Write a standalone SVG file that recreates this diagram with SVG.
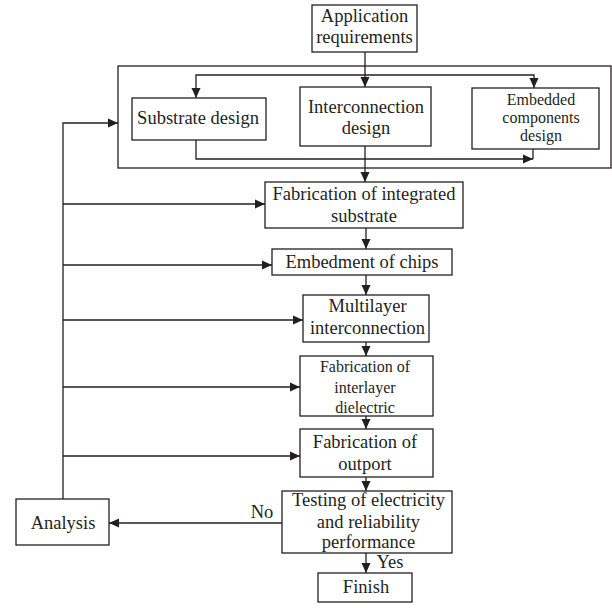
<svg xmlns="http://www.w3.org/2000/svg" width="612" height="608" viewBox="0 0 612 608">
<style>
.box{fill:none;stroke:#231f20;stroke-width:1.3}
.ln{fill:none;stroke:#231f20;stroke-width:1.3}
text{fill:#231f20;text-anchor:middle}
.t{font-size:18.5px}
.s{font-size:16px}
</style>
<defs>
<marker id="ah" markerUnits="userSpaceOnUse" markerWidth="10" markerHeight="10" viewBox="0 0 10 10" refX="10" refY="5" orient="auto">
<path d="M0,0.5 L10,5 L0,9.5 z" fill="#231f20"/>
</marker>
</defs>
<rect width="612" height="608" fill="#ffffff"/>
<g font-family="Liberation Serif, Times New Roman, serif">
<g id="container"><rect class="box" x="118" y="66" width="493" height="102"/></g>
<g id="connectors">
<path class="ln" d="M365,52 V87" marker-end="url(#ah)"/>
<path class="ln" d="M365,75 H196 V98" marker-end="url(#ah)"/>
<path class="ln" d="M365,75 H534 V88" marker-end="url(#ah)"/>
<path class="ln" d="M196,140 V159 H533" marker-end="url(#ah)"/>
<path class="ln" d="M533,149 V159"/>
<path class="ln" d="M365,146 V182" marker-end="url(#ah)"/>
<path class="ln" d="M366,228 V249" marker-end="url(#ah)"/>
<path class="ln" d="M366,275 V295" marker-end="url(#ah)"/>
<path class="ln" d="M366,342 V356" marker-end="url(#ah)"/>
<path class="ln" d="M366,416 V429" marker-end="url(#ah)"/>
<path class="ln" d="M366,477 V491" marker-end="url(#ah)"/>
<path class="ln" d="M366,553 V573" marker-end="url(#ah)"/>
<path class="ln" d="M282,523 H109" marker-end="url(#ah)"/>
<path class="ln" d="M63,499 V123 H118" marker-end="url(#ah)"/>
<path class="ln" d="M63,204 H265" marker-end="url(#ah)"/>
<path class="ln" d="M63,265 H272" marker-end="url(#ah)"/>
<path class="ln" d="M63,320 H303" marker-end="url(#ah)"/>
<path class="ln" d="M63,387 H300" marker-end="url(#ah)"/>
<path class="ln" d="M63,456 H300" marker-end="url(#ah)"/>
<text class="t" x="262" y="518">No</text>
<text class="t" x="390" y="568">Yes</text>
</g>
<g id="app"><rect class="box" x="312" y="5" width="105" height="47"/>
<text class="t" x="364.5" y="22">Application</text><text class="t" x="364.5" y="43">requirements</text></g>
<g id="substrate"><rect class="box" x="132" y="98" width="134" height="42"/>
<text class="t" x="198" y="124">Substrate design</text></g>
<g id="interconnection"><rect class="box" x="300" y="87" width="131" height="59"/>
<text class="t" x="366" y="113">Interconnection</text><text class="t" x="366" y="134">design</text></g>
<g id="embedded"><rect class="box" x="472" y="88" width="127" height="61"/>
<text class="s" x="541" y="105">Embedded</text><text class="s" x="541" y="123">components</text><text class="s" x="541" y="141">design</text></g>
<g id="fab-substrate"><rect class="box" x="265" y="182" width="198" height="46"/>
<text class="t" x="364" y="200">Fabrication of integrated</text><text class="t" x="364" y="222">substrate</text></g>
<g id="embedment"><rect class="box" x="272" y="249" width="180" height="26"/>
<text class="t" x="362" y="268">Embedment of chips</text></g>
<g id="multilayer"><rect class="box" x="303" y="295" width="126" height="47"/>
<text class="t" x="367.5" y="312">Multilayer</text><text class="t" x="367.5" y="334">interconnection</text></g>
<g id="interlayer"><rect class="box" x="300" y="356" width="133" height="60"/>
<text class="s" x="365" y="372">Fabrication of</text><text class="s" x="365" y="393">interlayer</text><text class="s" x="365" y="413">dielectric</text></g>
<g id="outport"><rect class="box" x="300" y="429" width="133" height="48"/>
<text class="t" x="365" y="448">Fabrication of</text><text class="t" x="365" y="470">outport</text></g>
<g id="testing"><rect class="box" x="282" y="491" width="170" height="62"/>
<text class="t" x="368.5" y="506">Testing of electricity</text><text class="t" x="368.5" y="528">and reliability</text><text class="t" x="368.5" y="548">performance</text></g>
<g id="analysis"><rect class="box" x="16" y="499" width="93" height="46"/>
<text class="t" x="63" y="529">Analysis</text></g>
<g id="finish"><rect class="box" x="318" y="573" width="94" height="29"/>
<text class="t" x="366" y="593">Finish</text></g>
</g>
</svg>
